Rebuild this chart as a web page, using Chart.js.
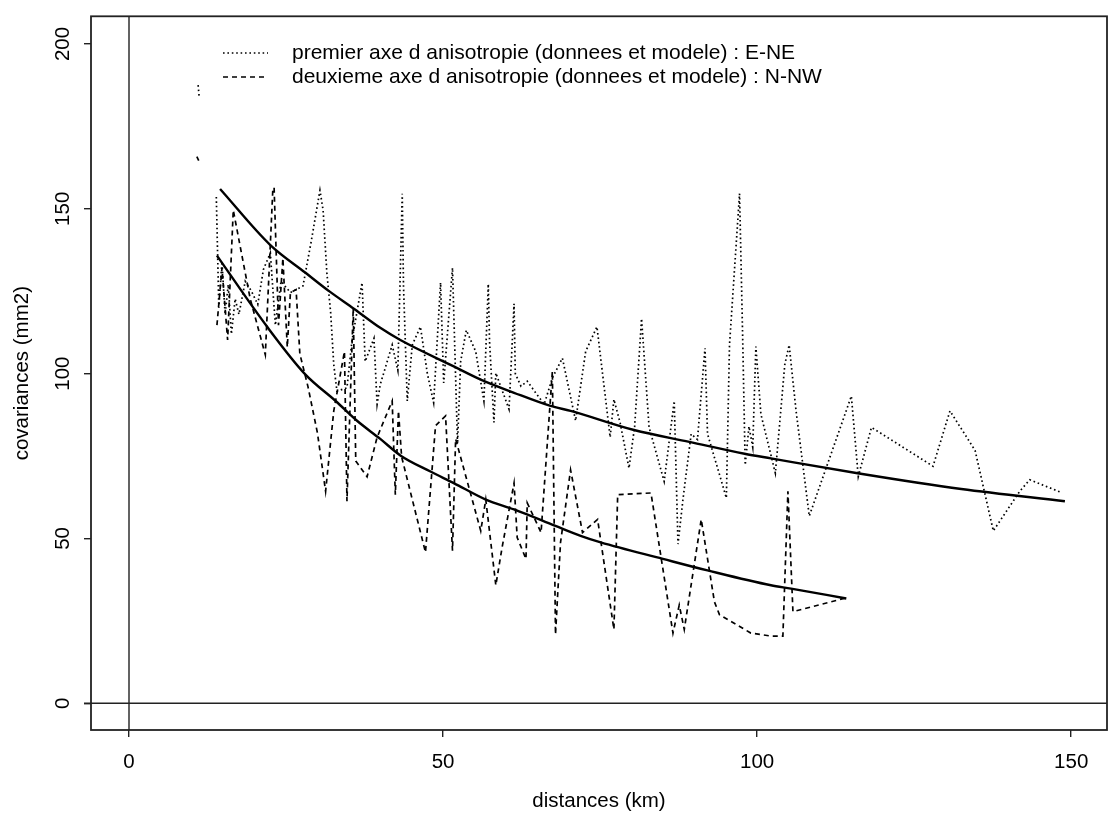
<!DOCTYPE html>
<html>
<head>
<meta charset="utf-8">
<script src="https://cdn.jsdelivr.net/npm/chart.js@4.4.0/dist/chart.umd.min.js"></script>
<style>
  html, body { margin: 0; padding: 0; background: #fff; }
  #wrap { width: 1114px; height: 817px; }
</style>
</head>
<body>
<div id="wrap"><canvas id="chart"></canvas></div>
<script>
// data
const neDist = [13.9, 14.3, 14.8, 15.3, 15.8, 16.3, 16.9, 17.5, 18.5, 19.5, 20.5, 21.4, 22.5, 23.3, 24.2, 25.7, 27.7, 29, 30.4, 30.9,
  31.5, 32.1, 32.6, 33.1, 34.7, 35.5, 37.1, 37.6, 39, 39.5, 40, 41.9, 42.8, 43.5, 43.7, 44.3, 45.1, 46.4, 47.5, 48.5,
  49.6, 50.1, 51.5, 52.3, 52.8, 53.7, 55.2, 56.5, 57.2, 57.4, 58.1, 58.4, 60.5, 61.3, 61.5, 62.4, 63.4, 66.1, 67.4, 69,
  71.1, 72.7, 74.5, 76.6, 77.2, 78.2, 79.6, 80.5, 81.6, 82.8, 85.2, 86.8, 87.4, 88.2, 89.5, 90.5, 91.7, 92.1, 95.1, 95.6,
  97.2, 97.7, 98.1, 98.7, 99.3, 99.8, 100.6, 102.9, 104.4, 105.1, 106.2, 108.3, 115, 116.1, 118.2, 123.2, 128, 130.7, 134.7, 137.6,
  141.8, 143.4, 148.5];
const neCov = [153.6, 120, 134, 118, 127, 112, 122.7, 118, 128, 125, 121, 131.6, 136.6, 114.7, 128, 124.6, 126.6, 140, 155.6, 149.6,
  130.6, 118.6, 102.7, 94.7, 95.7, 110, 127.6, 103.7, 110.7, 90.7, 96.7, 108.7, 101, 154.6, 126.6, 91.7, 108.7, 114.2, 100, 91.2,
  127.6, 97.2, 132.1, 78.7, 103.7, 113.2, 106.7, 91.7, 127.2, 109.7, 85.2, 100.2, 89.2, 121.2, 100, 96.2, 97.7, 90.7, 98.7, 104.7,
  85.7, 106.7, 114.2, 80.7, 92.2, 85, 71.3, 84, 116.7, 83.7, 67.3, 91.7, 48.3, 62, 81.7, 80, 107.7, 81.7, 62.3, 108.7,
  154.6, 110.7, 72.3, 84, 77.7, 108.2, 87.7, 69.8, 102.7, 108.7, 88.7, 56.8, 93.2, 68.8, 83.7, 77.7, 71.9, 88.7, 76.7, 52.3,
  64.3, 67.8, 63.9];

const nnwDist = [14, 14.8, 15.7, 16.6, 17.7, 19.3, 21.7, 22.9, 23.1, 23.8, 24.5, 25.2, 25.7, 26.6, 27.2, 28.5, 30, 31.3, 32.6, 34.3,
  34.7, 35.7, 36.1, 37.9, 39.5, 40.8, 41.9, 42.4, 42.9, 43.4, 47.2, 48.8, 50.4, 51.5, 52, 56, 56.8, 58.4, 59.4, 61.3,
  61.8, 63.2, 63.4, 65.6, 67.4, 67.9, 68.7, 70.3, 72.2, 74.6, 77.2, 77.8, 83.1, 86.6, 87.6, 88.4, 91.1, 93.2, 94, 99,
  102.2, 104.1, 104.9, 105.7, 114.2];
const nnwCov = [114.7, 132, 110.2, 149.6, 138.6, 122.7, 105.7, 156, 156.5, 114.7, 135, 108, 124.6, 125.5, 106, 96, 82, 64.3, 88.7, 106.7,
  61.3, 120, 73.5, 68.7, 80.7, 86.7, 91.7, 63.3, 88.7, 74.8, 45.8, 84.2, 87.2, 46.3, 80.2, 52.3, 61.8, 35.8, 47.3, 66.8,
  50.3, 43.8, 60.8, 51.8, 100.7, 20.9, 48.8, 70.8, 51.8, 55.8, 22.4, 63.3, 63.8, 21.3, 29.8, 22.4, 55.8, 30.8, 26.9, 21.3,
  20.4, 20.4, 64.3, 27.8, 32];

// fitted model curves
const neModelDist = [14.5, 22.5, 28.1, 31.8, 35.8, 40, 43.2, 51.7, 56, 61.3, 67.1, 70.3, 80.4, 89.2, 98, 102.2, 116, 132.5, 149];
const neModelCov = [156, 139, 130.6, 125.1, 119.7, 113.9, 110.2, 102.2, 98.2, 94.2, 90.2, 88.7, 82.9, 79.3, 75.7, 74.3, 69.8, 65, 61.3];
const nnwModelDist = [14, 22, 28.1, 32.9, 36.3, 40, 43.2, 48, 51.7, 56.8, 61.3, 67.9, 71.9, 75.1, 85, 92.1, 102.2, 105.4, 114.2];
const nnwModelCov = [135.8, 114.2, 99.7, 91.7, 85.7, 80.2, 75.2, 70.3, 66.8, 61.8, 58.8, 53.8, 50.8, 48.8, 43.8, 40.3, 35.8, 34.8, 31.8];

// short fragments left of the curves
const neStubDist = [11.0, 11.2];
const neStubCov = [187.5, 183.5];
const nnwStubDist = [10.8, 11.1];
const nnwStubCov = [165.8, 164.6];

const xTicks = [0, 50, 100, 150];
const yTicks = [0, 50, 100, 150, 200];
const seriesLabels = [
  "premier axe d anisotropie (donnees et modele) : E-NE",
  "deuxieme axe d anisotropie (donnees et modele) : N-NW"
];

const FONT = '"Liberation Sans", Arial, Helvetica, sans-serif';
const INK = "#000";
const DOTS = [1.6, 2.8];
const DASHES = [5, 4];

function pts(xs, ys) {
  return xs.map((x, i) => ({ x: x, y: ys[i] }));
}

function lineSet(label, xs, ys, dash, width, smooth) {
  return {
    label: label,
    data: pts(xs, ys),
    borderColor: INK,
    borderWidth: width,
    borderDash: dash,
    pointRadius: 0,
    fill: false,
    cubicInterpolationMode: smooth ? "monotone" : "default",
    tension: 0
  };
}

// frame, zero lines and legend, all placed from the scales
const extras = {
  id: "extras",
  beforeDatasetsDraw(chart) {
    const { ctx, chartArea, scales } = chart;
    const x0 = scales.x.getPixelForValue(0);
    const y0 = scales.y.getPixelForValue(0);
    ctx.save();
    ctx.strokeStyle = "#222";
    ctx.lineWidth = 1.4;
    ctx.beginPath();
    ctx.moveTo(chartArea.left - 7, y0);
    ctx.lineTo(chartArea.right, y0);
    ctx.moveTo(x0, chartArea.top);
    ctx.lineTo(x0, chartArea.bottom);
    ctx.stroke();
    ctx.lineWidth = 1.8;
    ctx.strokeRect(chartArea.left, chartArea.top, chartArea.right - chartArea.left, chartArea.bottom - chartArea.top);
    ctx.restore();
  },
  afterDatasetsDraw(chart) {
    const ctx = chart.ctx;
    const dashes = [DOTS, DASHES];
    ctx.save();
    ctx.font = "21px " + FONT;
    ctx.fillStyle = "#000";
    ctx.textBaseline = "middle";
    seriesLabels.forEach((txt, i) => {
      const y = 53 + i * 24;
      ctx.strokeStyle = INK;
      ctx.lineWidth = 1.6;
      ctx.setLineDash(dashes[i]);
      ctx.beginPath();
      ctx.moveTo(223, y);
      ctx.lineTo(268, y);
      ctx.stroke();
      ctx.setLineDash([]);
      ctx.fillText(txt, 292, y);
    });
    ctx.restore();
  }
};

const tickFont = { family: FONT, size: 20.5 };

new Chart(document.getElementById("chart"), {
  type: "line",
  data: {
    datasets: [
      lineSet(seriesLabels[0], neDist, neCov, DOTS, 1.7, false),
      lineSet(seriesLabels[1], nnwDist, nnwCov, DASHES, 1.7, false),
      lineSet("modele E-NE", neModelDist, neModelCov, [], 2.4, true),
      lineSet("modele N-NW", nnwModelDist, nnwModelCov, [], 2.4, true),
      lineSet("", neStubDist, neStubCov, DOTS, 1.7, false),
      lineSet("", nnwStubDist, nnwStubCov, DASHES, 1.7, false)
    ]
  },
  options: {
    responsive: true,
    maintainAspectRatio: false,
    animation: false,
    layout: { padding: { top: 7, right: 7, left: 0, bottom: 0 } },
    plugins: {
      legend: { display: false },
      tooltip: { enabled: false }
    },
    scales: {
      x: {
        type: "linear",
        min: -6.05,
        max: 155.7,
        afterBuildTicks: (s) => { s.ticks = xTicks.map((v) => ({ value: v })); },
        afterFit: (s) => { s.height = 87; },
        border: { display: false },
        grid: { drawOnChartArea: false, drawTicks: true, tickLength: 7, color: "#222", lineWidth: 1.4 },
        ticks: { color: "#000", font: tickFont, padding: 13, maxRotation: 0 },
        title: { display: true, text: "distances (km)", color: "#000", font: tickFont, padding: { top: 0, bottom: 3 } }
      },
      y: {
        type: "linear",
        min: -8.1,
        max: 208.4,
        afterBuildTicks: (s) => { s.ticks = yTicks.map((v) => ({ value: v })); },
        afterFit: (s) => { s.width = 91; },
        border: { display: false },
        grid: { drawOnChartArea: false, drawTicks: true, tickLength: 7, color: "#222", lineWidth: 1.4 },
        ticks: { color: "#000", font: tickFont, padding: 4, minRotation: 90, maxRotation: 90, crossAlign: "center" },
        title: { display: true, text: "covariances (mm2)", color: "#000", font: tickFont, padding: { top: 10, bottom: 0 } }
      }
    }
  },
  plugins: [extras]
});
</script>
</body>
</html>
